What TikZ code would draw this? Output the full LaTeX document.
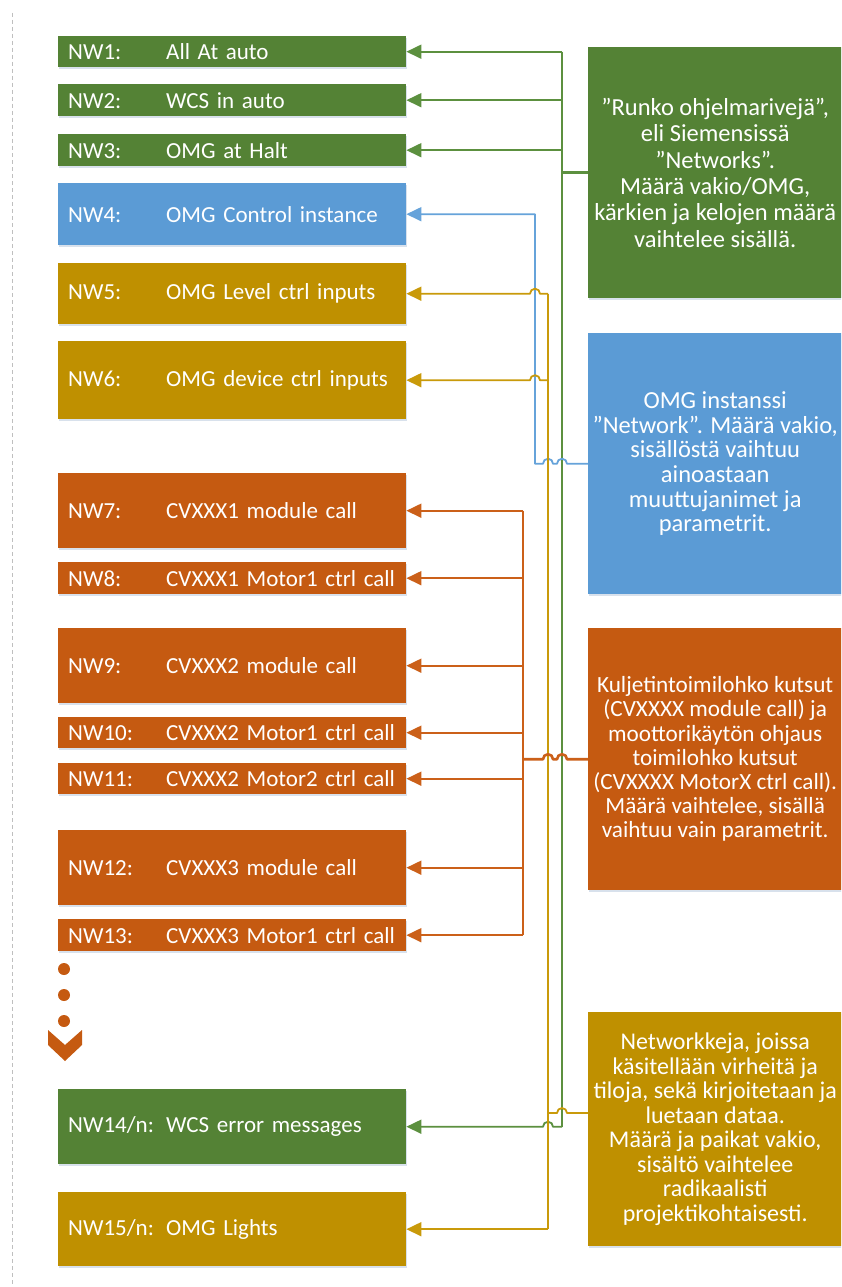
\documentclass[tikz,border=0pt]{standalone}
\usepackage{fontspec}
\setmainfont{Carlito}
\usetikzlibrary{arrows.meta,shadows}

\definecolor{cgreen}{HTML}{548235}
\definecolor{cblue}{HTML}{5B9BD5}
\definecolor{cgold}{HTML}{BF9000}
\definecolor{corange}{HTML}{C55A11}
\definecolor{lgreen}{HTML}{5C903F}
\definecolor{lblue}{HTML}{66A3DA}
\definecolor{lgold}{HTML}{C99A0A}
\definecolor{lorange}{HTML}{CB6019}
\definecolor{shadowc}{HTML}{C8D5E5}

\newcommand\nwlabel[1]{\makebox[98pt][l]{#1}}

\begin{document}
\begin{tikzpicture}[x=1pt,y=-1pt,
  softshadow/.style={drop shadow={shadow xshift=1pt,shadow yshift=-2pt,fill=shadowc,opacity=0.7}},
  nw/.style={fill=#1,anchor=north west,minimum width=348pt,text width=328pt,
    inner xsep=10pt,inner ysep=0pt,align=left,text=white,
    font=\fontsize{23}{26}\selectfont,softshadow},
  info/.style={fill=#1,anchor=north west,minimum width=254pt,
    inner xsep=2pt,inner ysep=0pt,align=center,text=white,softshadow},
  conn/.style={line width=1.8pt,line join=round,#1},
  tip/.style={conn=#1,-{Triangle[length=15pt,width=14pt]}},
]
% canvas
\fill[white] (0,0) rectangle (841,1287);
\useasboundingbox (0,0) rectangle (841,1287);
\clip (0,0) rectangle (841,1287);

% margin guide
\draw[black!25,line width=0.8pt,dash pattern=on 4pt off 3pt] (12,13) -- (12,1287);

% network list
\node[nw=cgreen,minimum height=31pt] (nw1) at (58,36) {\nwlabel{NW1:}All At auto};
\node[nw=cgreen,minimum height=32pt] (nw2) at (58,84) {\nwlabel{NW2:}WCS in auto};
\node[nw=cgreen,minimum height=32pt] (nw3) at (58,134) {\nwlabel{NW3:}OMG at Halt};
\node[nw=cblue,minimum height=62pt] (nw4) at (58,183) {\nwlabel{NW4:}OMG Control instance};
\node[nw=cgold,minimum height=61pt] (nw5) at (58,263) {\nwlabel{NW5:}OMG Level ctrl inputs};
\node[nw=cgold,minimum height=78pt] (nw6) at (58,341) {\nwlabel{NW6:}OMG device ctrl inputs};
\node[nw=corange,minimum height=75pt] (nw7) at (58,473) {\nwlabel{NW7:}CVXXX1 module call};
\node[nw=corange,minimum height=32pt] (nw8) at (58,562) {\nwlabel{NW8:}CVXXX1 Motor1 ctrl call};
\node[nw=corange,minimum height=75pt] (nw9) at (58,628) {\nwlabel{NW9:}CVXXX2 module call};
\node[nw=corange,minimum height=31pt] (nw10) at (58,717) {\nwlabel{NW10:}CVXXX2 Motor1 ctrl call};
\node[nw=corange,minimum height=31pt] (nw11) at (58,763) {\nwlabel{NW11:}CVXXX2 Motor2 ctrl call};
\node[nw=corange,minimum height=75pt] (nw12) at (58,830) {\nwlabel{NW12:}CVXXX3 module call};
\node[nw=corange,minimum height=32pt] (nw13) at (58,919) {\nwlabel{NW13:}CVXXX3 Motor1 ctrl call};
\node[nw=cgreen,minimum height=75pt] (nw14) at (58,1089) {\nwlabel{NW14/n:}WCS error messages};
\node[nw=cgold,minimum height=74pt] (nw15) at (58,1192) {\nwlabel{NW15/n:}OMG Lights};

% continuation marks
\fill[corange] (64,969) circle[radius=6pt] (64,995) circle[radius=6pt] (64,1021) circle[radius=6pt];
\fill[corange] (48,1030) -- (65,1045) -- (82,1030) -- (82,1045) -- (65,1061) -- (48,1045) -- cycle;

% explanation boxes
\node[info=cgreen,minimum height=251pt,font=\fontsize{24.5}{26.4}\selectfont] (gbox) at (588,47)
  {”Runko ohjelmarivejä”,\\eli Siemensissä\\”Networks”.\\Määrä vakio/OMG,\\kärkien ja kelojen määrä\\vaihtelee sisällä.};
\node[info=cblue,minimum height=261pt,font=\fontsize{24.5}{24.6}\selectfont] (bbox) at (588,333)
  {OMG instanssi\\”Network”. Määrä vakio,\\sisällöstä vaihtuu\\ainoastaan\\muuttujanimet ja\\parametrit.};
\node[info=corange,minimum height=262pt,font=\fontsize{23.2}{24.2}\selectfont] (obox) at (588,628)
  {Kuljetintoimilohko kutsut\\(CVXXXX module call) ja\\moottorikäytön ohjaus\\toimilohko kutsut\\(CVXXXX MotorX ctrl call).\\Määrä vaihtelee, sisällä\\vaihtuu vain parametrit.};
\node[info=cgold,minimum height=234pt,font=\fontsize{24}{24.5}\selectfont] (ybox) at (588,1012)
  {Networkkeja, joissa\\käsitellään virheitä ja\\tiloja, sekä kirjoitetaan ja\\luetaan dataa.\\Määrä ja paikat vakio,\\sisältö vaihtelee\\radikaalisti\\projektikohtaisesti.};

% bus positions
\coordinate (gbus) at (562,0);
\coordinate (ybus) at (548,0);
\coordinate (bbus) at (535,0);
\coordinate (obus) at (523,0);
\coordinate (yjoin) at (588,1113);

% green connectors
\draw[conn=lgreen] (gbus |- nw1.east) -- (gbus |- nw14.east);
\draw[conn=lgreen,line width=2.6pt] (gbox.west) -- (gbus |- gbox.west);
\foreach \n in {nw1,nw2,nw3}
  \draw[tip=lgreen] (gbus |- \n.east) -- (\n.east);
\draw[tip=lgreen] (gbus |- nw14.east) -- ([xshift=5pt]ybus |- nw14.east)
  arc[start angle=0,end angle=180,radius=5pt] -- (nw14.east);

% blue connector
\draw[tip=lblue] (bbox.west) -- ([xshift=5pt]gbus |- bbox.west)
  arc[start angle=0,end angle=180,radius=5pt] -- ([xshift=5pt]ybus |- bbox.west)
  arc[start angle=0,end angle=180,radius=5pt] -- (bbus |- bbox.west)
  -- (bbus |- nw4.east) -- (nw4.east);

% gold connectors
\draw[conn=lgold] (ybus |- nw5.east) -- (ybus |- nw15.east);
\foreach \n in {nw5,nw6}
  \draw[tip=lgold] (ybus |- \n.east) -- ([xshift=5pt]bbus |- \n.east)
    arc[start angle=0,end angle=180,radius=5pt] -- (\n.east);
\draw[tip=lgold] (ybus |- nw15.east) -- (nw15.east);
\draw[conn=lgold] (yjoin) -- ([xshift=5pt]gbus |- yjoin)
  arc[start angle=0,end angle=180,radius=5pt] -- (ybus |- yjoin);

% orange connectors
\draw[conn=lorange] (obus |- nw7.east) -- (obus |- nw13.east);
\draw[conn=lorange,line width=2.6pt] (obox.west) -- ([xshift=5pt]gbus |- obox.west)
  arc[start angle=0,end angle=180,radius=5pt] -- ([xshift=5pt]ybus |- obox.west)
  arc[start angle=0,end angle=180,radius=5pt] -- (obus |- obox.west);
\foreach \n in {nw7,nw8,nw9,nw10,nw11,nw12,nw13}
  \draw[tip=lorange] (obus |- \n.east) -- (\n.east);
\end{tikzpicture}
\end{document}
